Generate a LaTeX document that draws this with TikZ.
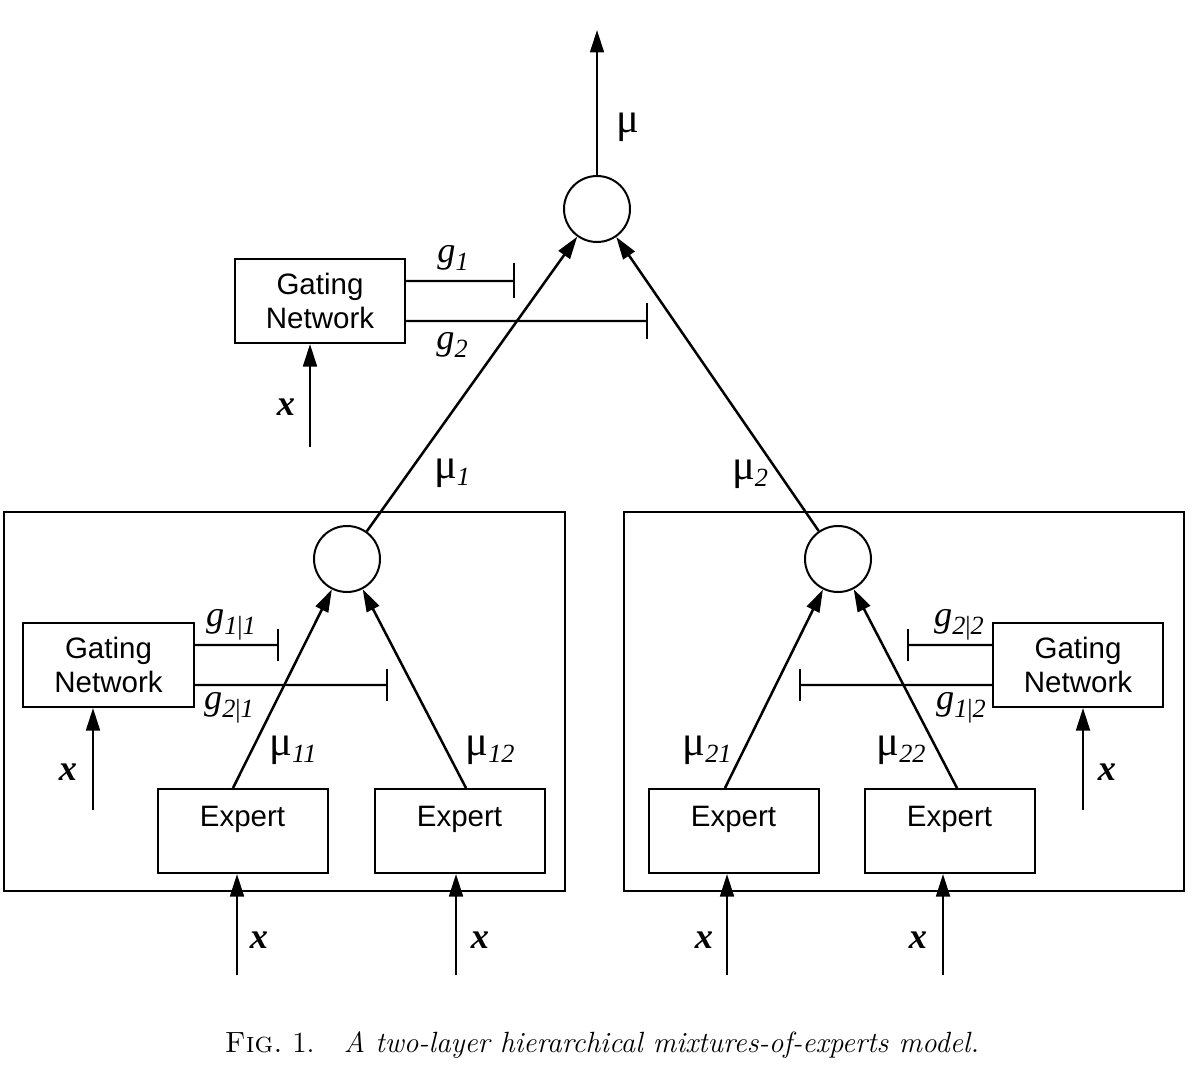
\documentclass[tikz,border=0pt]{standalone}
\usepackage{fontspec}
\usetikzlibrary{arrows.meta, positioning}
\newfontfamily\helv{Liberation Sans}
\newfontfamily\tms{Liberation Serif}
\newcommand{\sublbl}[2]{{\tms #1}\raisebox{-0.45ex}{\fontsize{10.5}{11}\selectfont\tms\itshape #2}}
\newcommand{\mug}{{\fontsize{17}{18}\selectfont\tms μ}}
\newcommand{\xin}{{\tms\bfseries\itshape x}}

\tikzset{
  box/.style={draw, line width=0.8pt, minimum width=68pt, minimum height=33.6pt, inner sep=0pt,
              font=\fontsize{11.8}{13.9}\selectfont\helv},
  gatebox/.style={box, align=center},
  expertbox/.style={box, text height=8.4pt, text depth=12pt},
  sumnode/.style={draw, circle, line width=0.8pt, minimum size=26.4pt, inner sep=0pt},
  groupbox/.style={draw, line width=0.8pt, inner sep=0pt, minimum height=151.6pt},
  flow/.style={line width=1pt, -{Triangle[length=9pt,width=5.5pt]}},
  gate/.style={line width=0.9pt, -{Bar[width=13pt]}},
  lbl/.style={inner sep=1pt, font=\fontsize{14.5}{16}\selectfont\tms},
}

\begin{document}
\begin{tikzpicture}[x=0.4pt, y=-0.4pt]
\useasboundingbox (0,0) rectangle (1192,1078);
% the two lower mixtures
\node[groupbox, minimum width=224.4pt] (grpa) at (284.5,701.5) {};
\node[groupbox, minimum width=224pt] (grpb) at (904,701.5) {};
% summing nodes
\node[sumnode] (top) at (597,209) {};
\node[sumnode] (suma) at (347,559) {};
\node[sumnode] (sumb) at (838,559) {};
% gating networks
\node[gatebox] (gtop) at (320,301) {Gating\\Network};
\node[gatebox] (ga) at (108.5,665) {Gating\\Network};
\node[gatebox] (gb) at (1078,665) {Gating\\Network};
% experts
\node[expertbox] (ea1) at (242.5,831) {Expert};
\node[expertbox] (ea2) at (459.5,831) {Expert};
\node[expertbox] (eb1) at (733.5,831) {Expert};
\node[expertbox] (eb2) at (949.5,831) {Expert};
% free ends
\coordinate (out) at (597,30);
\coordinate (xtop) at (310,447);
\coordinate (xa) at (93,810);
\coordinate (xb) at (1083,810);
\coordinate (xa1) at (237,975);
\coordinate (xa2) at (456,975);
\coordinate (xb1) at (727,975);
\coordinate (xb2) at (943,975);
\coordinate (gt1) at (515,281);
\coordinate (gt2) at (648,321);
\coordinate (ga1) at (279,645);
\coordinate (ga2) at (388,685);
\coordinate (gb2) at (907,645);
\coordinate (gb1) at (799,685);
% outputs
\draw[flow] (top) -- (out);
\draw[flow] (suma) -- (top);
\draw[flow] (sumb) -- (top);
\draw[flow] ([xshift=-3.8pt]ea1.north) -- (suma);
\draw[flow] ([xshift=2.6pt]ea2.north) -- (suma);
\draw[flow] ([xshift=-3.4pt]eb1.north) -- (sumb);
\draw[flow] ([xshift=3pt]eb2.north) -- (sumb);
% inputs
\draw[flow] (xtop) -- (xtop |- gtop.south);
\draw[flow] (xa) -- (xa |- ga.south);
\draw[flow] (xb) -- (xb |- gb.south);
\draw[flow] (xa1) -- (xa1 |- ea1.south);
\draw[flow] (xa2) -- (xa2 |- ea2.south);
\draw[flow] (xb1) -- (xb1 |- eb1.south);
\draw[flow] (xb2) -- (xb2 |- eb2.south);
% gates
\draw[gate, -{Bar[width=14pt]}] ([yshift=8pt]gtop.east) -- (gt1);
\draw[gate, -{Bar[width=14pt]}] ([yshift=-8pt]gtop.east) -- (gt2);
\draw[gate] ([yshift=8pt]ga.east) -- (ga1);
\draw[gate] ([yshift=-8pt]ga.east) -- (ga2);
\draw[gate] ([yshift=8pt]gb.west) -- (gb2);
\draw[gate] ([yshift=-8pt]gb.west) -- (gb1);
% labels
\node[lbl] (lmu) at (628,127) {\mug};
\node[lbl] (lg1) at (453,258) {\sublbl{\itshape g}{1}};
\node[lbl] (lg2) at (452,345) {\sublbl{\itshape g}{2}};
\node[lbl] (lmu1) at (452,473) {\sublbl{\mug}{1}};
\node[lbl] (lmu2) at (750,474) {\sublbl{\mug}{2}};
\node[lbl] (lga1) at (231,625) {\sublbl{\itshape g}{1\textup{|}1}};
\node[lbl] (lga2) at (229,708) {\sublbl{\itshape g}{2\textup{|}1}};
\node[lbl] (lgb2) at (959,625) {\sublbl{\itshape g}{2\textup{|}2}};
\node[lbl] (lgb1) at (961,708) {\sublbl{\itshape g}{1\textup{|}2}};
\node[lbl] (lmu11) at (293,750) {\sublbl{\mug}{11}};
\node[lbl] (lmu12) at (490,750) {\sublbl{\mug}{12}};
\node[lbl] (lmu21) at (707,750) {\sublbl{\mug}{21}};
\node[lbl] (lmu22) at (901,750) {\sublbl{\mug}{22}};
\node[lbl] (lxtop) at (286,407) {\xin};
\node[lbl] (lxa) at (68,772) {\xin};
\node[lbl] (lxb) at (1107,772) {\xin};
\node[lbl] (lxa1) at (259,940) {\xin};
\node[lbl] (lxa2) at (480,940) {\xin};
\node[lbl] (lxb1) at (704,940) {\xin};
\node[lbl] (lxb2) at (918,940) {\xin};
% caption
\node[font=\fontsize{11.7}{13}\selectfont] (cap) at (602,1045)
  {\textsc{Fig.}~1.\quad\textit{A two-layer hierarchical mixtures-of-experts model.}};
\end{tikzpicture}
\end{document}
